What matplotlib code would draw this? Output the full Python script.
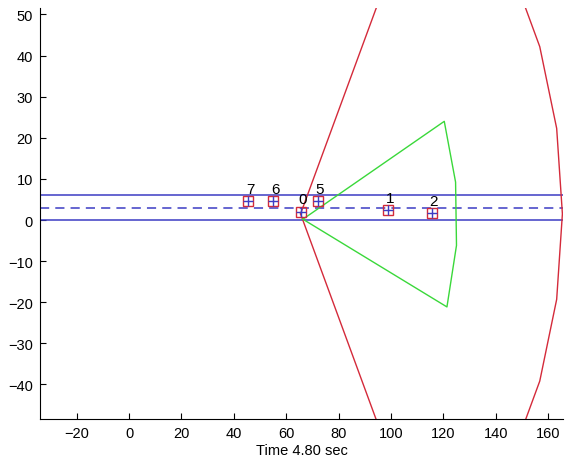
import numpy as np
import matplotlib
matplotlib.use('Agg')
import matplotlib.pyplot as plt

# tracked objects
track_ids = ['7', '6', '0', '5', '1', '2']
track_x = [45.5, 55.1, 65.5, 72.0, 98.8, 115.6]
track_y = [4.6, 4.6, 2.0, 4.6, 2.4, 1.7]

# lane
lane_edges = [0.0, 6.0]
lane_center = 3.0

# sensor fields of view
wide_origin = (65.5, 1.5)
wide_range = 100.0
wide_angles = [-60, -48, -36, -24, -12, 0, 12, 24, 36, 48, 60]
narrow_origin = (66.4, 0.2)
narrow_range = 59.0
narrow_angles = [-21.2, -6.2, 8.8, 23.8]

time_sec = 4.80

BLUE = '#3c3cc4'
RED = '#d42a3a'
GREEN = '#3ad83a'


def polar(origin, r, ang):
    a = np.radians(ang)
    return origin[0] + r * np.cos(a), origin[1] + r * np.sin(a)


def main():
    plt.rcParams['font.family'] = ['Liberation Sans', 'DejaVu Sans']
    fig = plt.figure(figsize=(5.74, 4.64), dpi=100)
    ax = fig.add_axes([0.0697, 0.0948, 0.911, 0.886])

    xlim = (-34, 165.7)
    for y in lane_edges:
        ax.plot(xlim, [y, y], color=BLUE, lw=1.1)
    ax.plot(xlim, [lane_center, lane_center], color=BLUE, lw=1.1, ls=(0, (6, 4)))

    # wide cone
    wx, wy = polar(wide_origin, wide_range, np.array(wide_angles))
    ox, oy = wide_origin
    ax.plot([ox, wx[0]], [oy, wy[0]], color=RED, lw=1)
    ax.plot([ox, wx[-1]], [oy, wy[-1]], color=RED, lw=1)
    ax.plot(wx, wy, color=RED, lw=1)

    # narrow cone
    nx, ny = polar(narrow_origin, narrow_range, np.array(narrow_angles))
    gx, gy = narrow_origin
    ax.plot(np.r_[gx, nx, gx], np.r_[gy, ny, gy], color=GREEN, lw=1)

    for tid, x, y in zip(track_ids, track_x, track_y):
        ax.plot(x, y, marker='s', ms=7.5, mfc='none', mec=RED, mew=1)
        ax.plot(x, y, marker='+', ms=7.5, color=BLUE, mew=1)
        ax.text(x + 0.8, y + 1.3, tid, ha='center', va='bottom', fontsize=11)

    ax.set_xlim(*xlim)
    ax.set_ylim(-48.4, 51.6)
    ax.set_xticks(np.arange(-20, 161, 20))
    ax.set_yticks(np.arange(-40, 51, 10))
    ax.tick_params(direction='in', length=4, labelsize=10.5, pad=5)
    ax.spines['top'].set_visible(False)
    ax.spines['right'].set_visible(False)
    ax.set_xlabel(f'Time {time_sec:.2f} sec', fontsize=10.5, labelpad=2)

    fig.savefig('out.png', dpi=100)


if __name__ == '__main__':
    main()
